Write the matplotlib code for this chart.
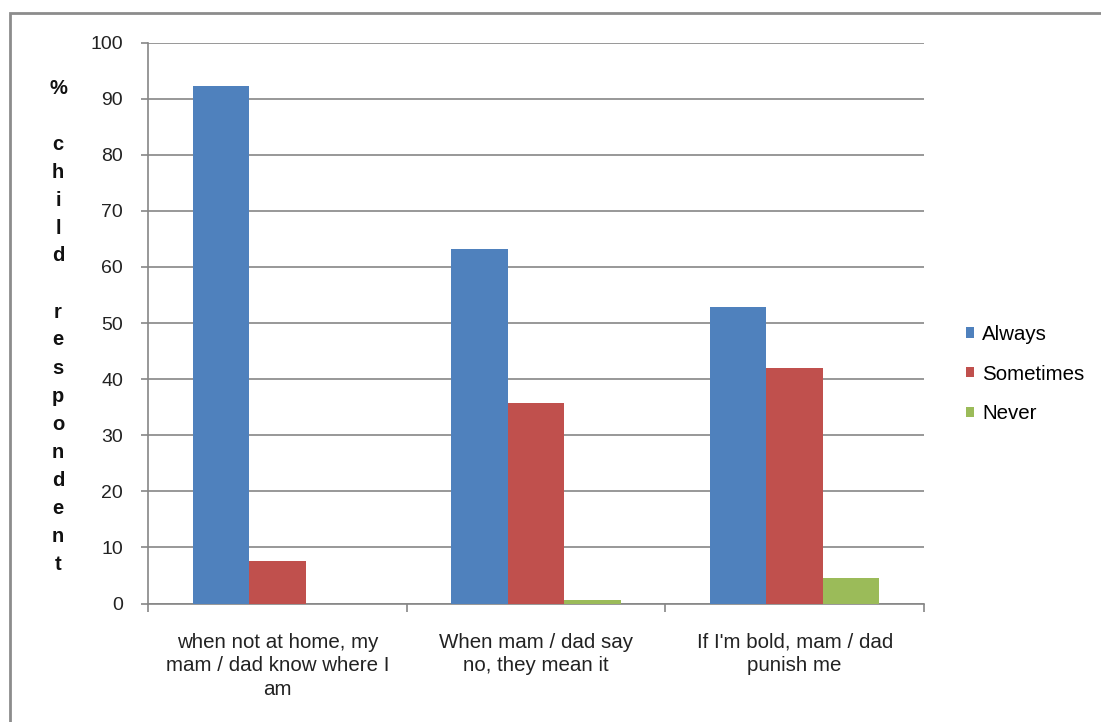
import matplotlib
matplotlib.use("Agg")
import matplotlib.pyplot as plt
import numpy as np
from matplotlib.patches import Rectangle

plt.rcParams['font.family'] = ['Liberation Sans', 'DejaVu Sans']

categories = [
    "when not at home, my\nmam / dad know where I\nam",
    "When mam / dad say\nno, they mean it",
    "If I'm bold, mam / dad\npunish me",
]
series_names = ["Always", "Sometimes", "Never"]
always = [92.2, 63.2, 52.9]
sometimes = [7.5, 35.8, 41.9]
never = [0.0, 0.6, 4.5]
y_ticks = [0, 10, 20, 30, 40, 50, 60, 70, 80, 90, 100]
y_label = "%\n\nchild\n\nrespondent"

colors = ["#4F81BD", "#C0504D", "#9BBB59"]
grid_col = "#868686"
W, H = 1101, 722

fig = plt.figure(figsize=(W / 100, H / 100), dpi=100)
ax = fig.add_axes([148 / W, 1 - 603.5 / H, (924 - 148) / W, (603.5 - 42.5) / H])

x = np.arange(len(categories))
bw = 0.218
for i, (vals, name) in enumerate(zip([always, sometimes, never], series_names)):
    ax.bar(x + (i - 1) * bw, vals, width=bw, color=colors[i], label=name,
           edgecolor="none", zorder=3)

ax.set_xlim(-0.5, 2.5)
ax.set_ylim(0, 100)
ax.set_yticks(y_ticks)
ax.set_yticklabels([str(t) for t in y_ticks], fontsize=14, color="#222222")
ax.yaxis.grid(True, color=grid_col, linewidth=1.2, zorder=0)
ax.tick_params(axis="y", length=5, width=1.2, color=grid_col, pad=13)

# category boundaries as major ticks, labels on minor ticks
ax.set_xticks([-0.5, 0.5, 1.5, 2.5])
ax.set_xticklabels([])
ax.tick_params(axis="x", which="major", length=6, width=1.2, color=grid_col, direction="out")
ax.set_xticks(x, minor=True)
ax.set_xticklabels(categories, minor=True, fontsize=14.8, color="#222222", linespacing=1.32)
ax.tick_params(axis="x", which="minor", length=0, pad=21)

for s in ["top", "right"]:
    ax.spines[s].set_visible(False)
for s in ["left", "bottom"]:
    ax.spines[s].set_color(grid_col)
    ax.spines[s].set_linewidth(1.2)

# vertical stacked axis title, one character per row
rows = []
for word in y_label.split("\n"):
    rows.extend(list(word) if word else [""])
for k, ch in enumerate(rows):
    if ch:
        fig.text(58 / W, 1 - (88 + 28 * k) / H, ch, ha="center", va="center",
                 fontsize=14.5, fontweight="bold", color="#111111")

ax.legend(loc="center left", bbox_to_anchor=(966 / W, 1 - 374 / H),
          bbox_transform=fig.transFigure, frameon=False, fontsize=14.8,
          handlelength=0.4, handleheight=0.4, handletextpad=0.4,
          labelspacing=1.0, borderpad=0, borderaxespad=0)

# outer chart frame
fig.patches.append(Rectangle((10 / W, -0.1), 1.2, 1 - 13 / H + 0.1,
                             transform=fig.transFigure, fill=False,
                             edgecolor="#8c8c8c", linewidth=2))

fig.savefig("out.png", dpi=100)
